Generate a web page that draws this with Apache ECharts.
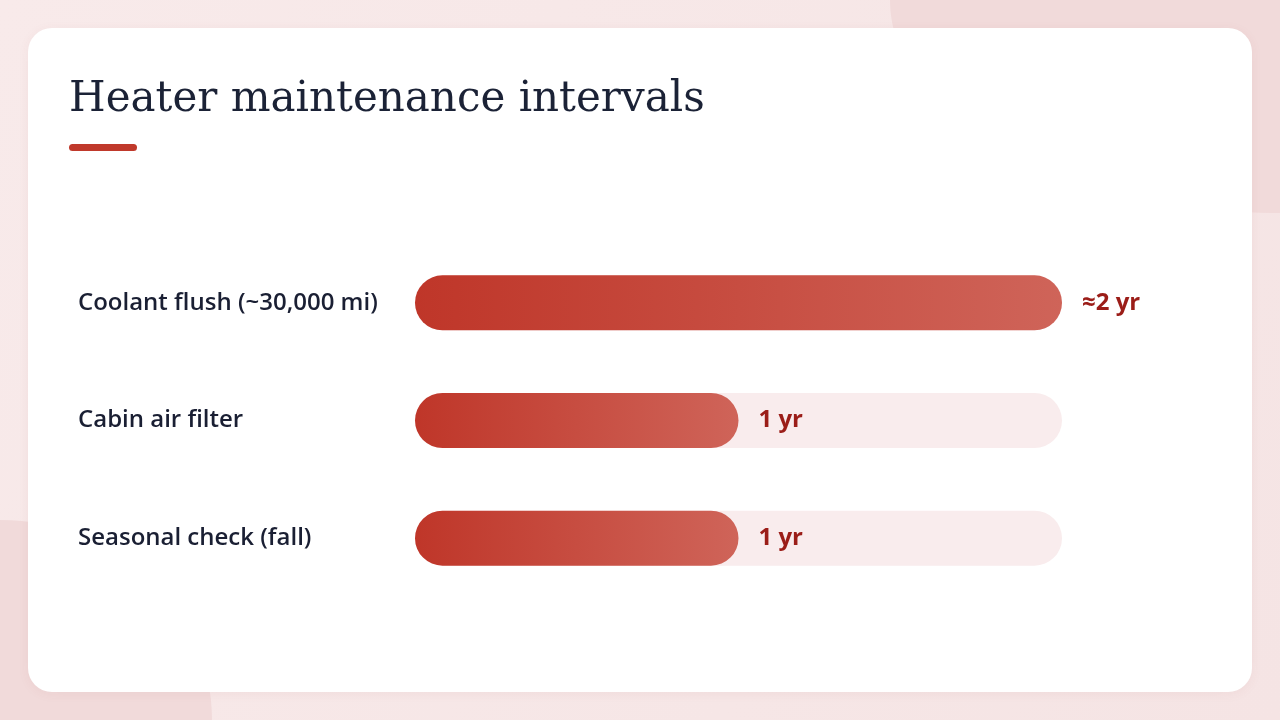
<!DOCTYPE html>
<html>
<head>
<meta charset="utf-8">
<script src="https://cdn.jsdelivr.net/npm/echarts@6/dist/echarts.min.js"></script>
<style>
  html, body { margin: 0; padding: 0; width: 1280px; height: 720px; overflow: hidden; }
  #chart { width: 1280px; height: 720px; }
</style>
</head>
<body>
<div id="chart"></div>
<script>
const titleText = 'Heater maintenance intervals';
const categories = ['Coolant flush (~30,000 mi)', 'Cabin air filter', 'Seasonal check (fall)'];
const intervalYears = [2, 1, 1];
const valueLabels = ['≈2 yr', '1 yr', '1 yr'];
const axisMax = 2;

const chart = echarts.init(document.getElementById('chart'), null, { renderer: 'canvas' });

const option = {
  animation: false,
  backgroundColor: {
    type: 'linear', x: 0, y: 0, x2: 1, y2: 1,
    colorStops: [{ offset: 0, color: '#f8eaea' }, { offset: 1, color: '#f5e4e4' }]
  },
  graphic: [
    { type: 'ellipse', z: -10, shape: { cx: 1280, cy: 0, rx: 390, ry: 213 }, style: { fill: '#f1dada' } },
    { type: 'ellipse', z: -10, shape: { cx: 0, cy: 720, rx: 212, ry: 200 }, style: { fill: '#f1dada' } },
    {
      type: 'rect', z: -5,
      shape: { x: 28, y: 28, width: 1224, height: 664, r: 24 },
      style: { fill: '#ffffff', shadowBlur: 12, shadowColor: 'rgba(150,60,60,0.06)', shadowOffsetY: 2 }
    },
    {
      type: 'text', left: 69, top: 79,
      style: { text: titleText, font: '42px "DejaVu Serif"', fill: '#1b2236' }
    },
    {
      type: 'rect',
      shape: { x: 69, y: 144, width: 68, height: 7, r: 3.5 },
      style: { fill: '#c0392b' }
    }
  ],
  grid: { left: 415, right: 218, top: 244, bottom: 123, containLabel: false },
  xAxis: {
    type: 'value', min: 0, max: axisMax, show: false
  },
  yAxis: {
    type: 'category', data: categories, inverse: true,
    axisLine: { show: false }, axisTick: { show: false }, splitLine: { show: false },
    axisLabel: {
      align: 'left', margin: 337,
      fontFamily: 'Open Sans', fontSize: 24, fontWeight: 600, color: '#1a1f33'
    }
  },
  series: [{
    type: 'bar',
    data: intervalYears,
    barWidth: 55,
    showBackground: true,
    backgroundStyle: { color: '#f9eced', borderRadius: 28 },
    itemStyle: {
      borderRadius: 28,
      color: {
        type: 'linear', x: 0, y: 0, x2: 1, y2: 0,
        colorStops: [{ offset: 0, color: '#bf3629' }, { offset: 1, color: '#cf6459' }]
      }
    },
    label: {
      show: true, position: 'right', distance: 20,
      formatter: p => valueLabels[p.dataIndex],
      fontFamily: 'Open Sans', fontSize: 24, fontWeight: 'bold', color: '#9b1d18'
    }
  }]
};
chart.setOption(option);
</script>
</body>
</html>
